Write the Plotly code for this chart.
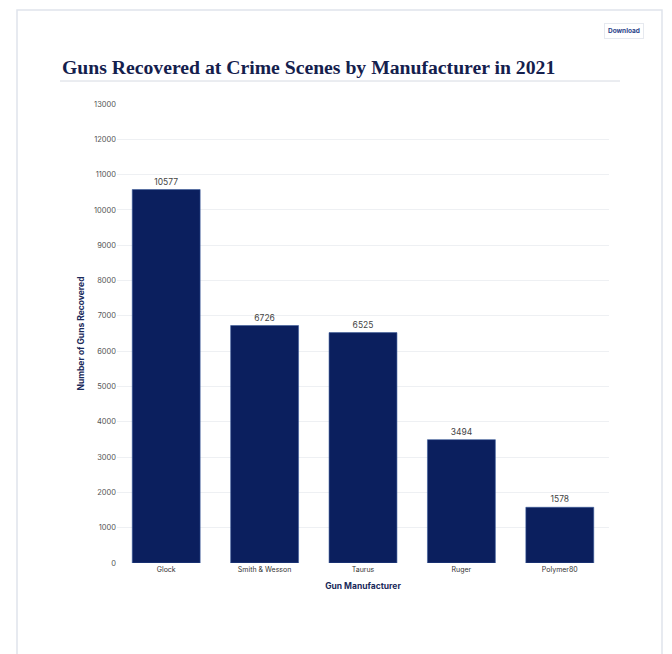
import plotly.graph_objects as go

W, H = 672, 654
categories = ["Glock", "Smith & Wesson", "Taurus", "Ruger", "Polymer80"]
values = [10577, 6726, 6525, 3494, 1578]
y_ticks = list(range(0, 13001, 1000))

NAVY = "#0b1f5e"

def px_x(x):
    return x / W

def px_y(y):
    return 1 - y / H

fig = go.Figure()
fig.add_trace(go.Bar(
    x=categories, y=values,
    marker=dict(color=NAVY, line=dict(color="#3a5a9a", width=0.6)),
    text=[str(v) for v in values], textposition="outside",
    textfont=dict(family="Inter", size=8.5, color="#444444"),
    cliponaxis=False, width=0.69,
))

fig.update_layout(
    width=W, height=H,
    margin=dict(l=0, r=0, t=0, b=0, autoexpand=False),
    paper_bgcolor="white", plot_bgcolor="white",
    showlegend=False,
    bargap=0.31,
    xaxis=dict(
        domain=[px_x(117), px_x(609)],
        automargin=False,
        showgrid=False, showline=False, zeroline=False,
        tickfont=dict(family="Inter", size=7, color="#333333"),
        title=dict(text="<b>Gun Manufacturer</b>", font=dict(family="Inter", size=8.5, color="#1a2a5a"), standoff=10),
        ticks="", ticklabelstandoff=1,
    ),
    yaxis=dict(
        domain=[px_y(563), px_y(104)],
        automargin=False,
        range=[0, 13000],
        tickvals=y_ticks,
        ticktext=[str(t) for t in y_ticks],
        showgrid=True, gridcolor="#eef0f3", gridwidth=1,
        zeroline=False, showline=False,
        tickfont=dict(family="Inter", size=7.5, color="#555555"),
        title=dict(text="<b>Number of Guns Recovered</b>", font=dict(family="Inter", size=8.5, color="#1a2a5a"), standoff=8),
        ticks="", ticklabelstandoff=0,
    ),
    font=dict(family="Inter"),
)

# card outline
fig.add_shape(type="rect", xref="paper", yref="paper",
              x0=px_x(17), x1=px_x(662), y0=px_y(660), y1=px_y(10),
              line=dict(color="#dfe4ec", width=1.5), fillcolor="rgba(0,0,0,0)", layer="below")

# title
fig.add_annotation(xref="paper", yref="paper", x=px_x(60), y=px_y(67),
                   xanchor="left", yanchor="middle", showarrow=False,
                   text="<b>Guns Recovered at Crime Scenes by Manufacturer in 2021</b>",
                   font=dict(family="Liberation Serif", size=19.7, color="#14204d"))
# underline
fig.add_shape(type="line", xref="paper", yref="paper",
              x0=px_x(60), x1=px_x(620), y0=px_y(81), y1=px_y(81),
              line=dict(color="#d6dae2", width=1))

# download button
fig.add_annotation(xref="paper", yref="paper", x=px_x(624), y=px_y(31),
                   xanchor="center", yanchor="middle", showarrow=False,
                   text="<b>Download</b>",
                   font=dict(family="Inter", size=6.5, color="#2a3f8a"),
                   bordercolor="#e6e9ef", borderwidth=1, borderpad=3,
                   bgcolor="white")

fig.write_html("out.html")
